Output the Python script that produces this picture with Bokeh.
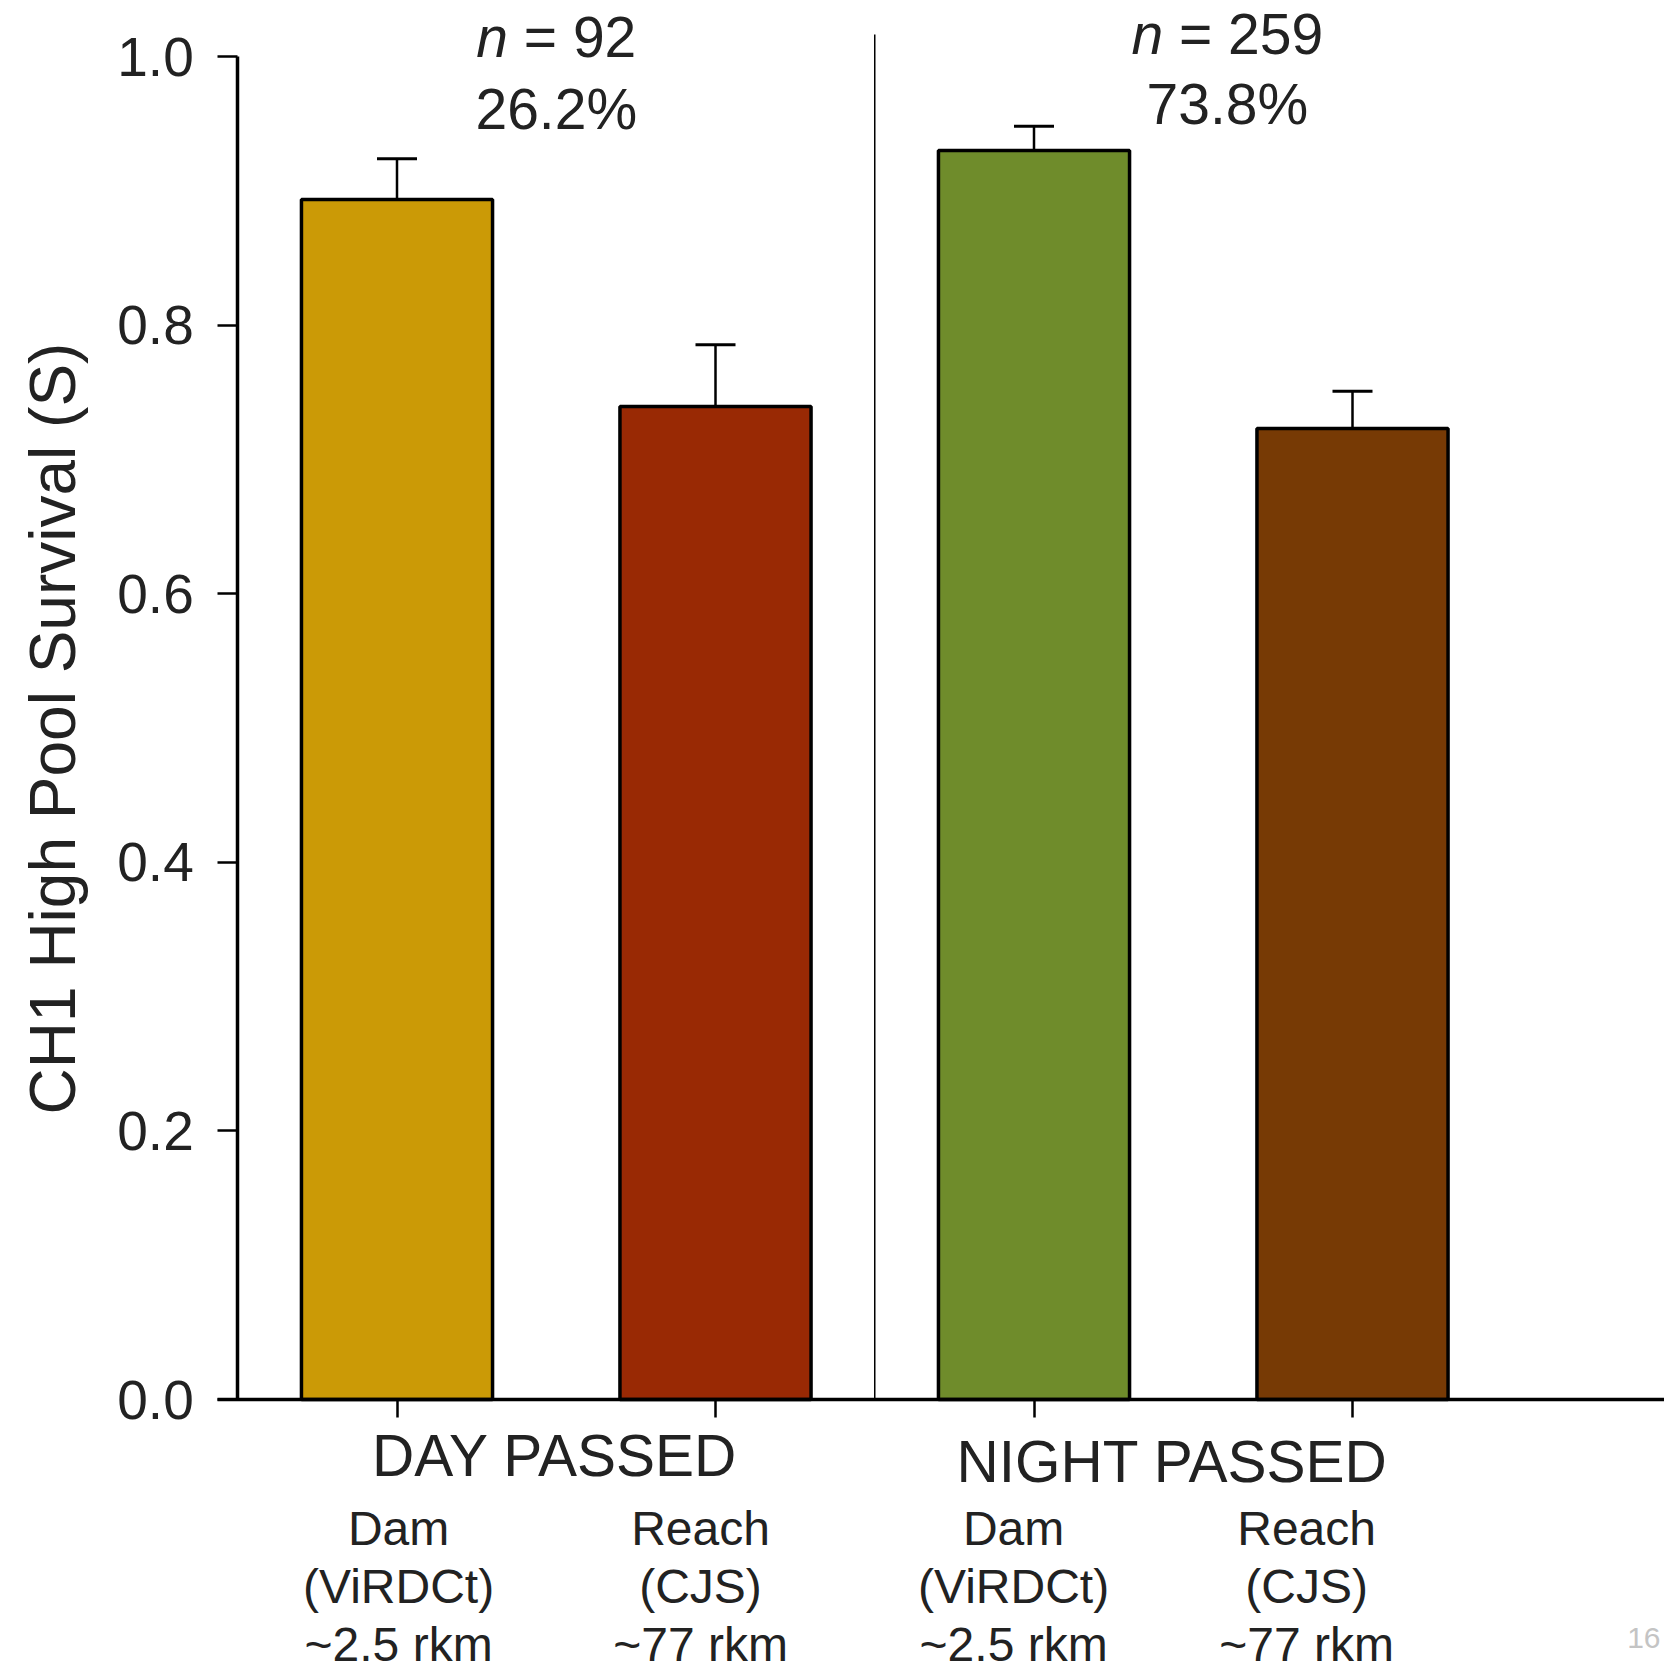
import math
from bokeh.plotting import figure
from bokeh.models import ColumnDataSource, FixedTicker
from bokeh.core.properties import value
from bokeh.embed import file_html
from bokeh.resources import INLINE

# ---------------- data ----------------
group_names = ["DAY PASSED", "NIGHT PASSED"]
group_n = ["92", "259"]
group_pct = ["26.2%", "73.8%"]
bar_names = ["Dam", "Reach", "Dam", "Reach"]
bar_methods = ["(ViRDCt)", "(CJS)", "(ViRDCt)", "(CJS)"]
bar_distance = ["~2.5 rkm", "~77 rkm", "~2.5 rkm", "~77 rkm"]
survival = [0.8935, 0.7394, 0.930, 0.723]
survival_upper = [0.9238, 0.7853, 0.948, 0.7508]
bar_colors = ["#CB9A06", "#992904", "#6F8C2B", "#773A05"]
y_ticks = [0.0, 0.2, 0.4, 0.6, 0.8, 1.0]
y_tick_labels = ["0.0", "0.2", "0.4", "0.6", "0.8", "1.0"]
y_title = "CH1 High Pool Survival (S)"
slide_number = "16"

# ---------------- layout ----------------
W, H = 1664, 1664
PX_X, PX_Y = 318.5, 1343.0          # pixels per data unit
ORIGIN_PX_X, ORIGIN_PX_Y = 396.5, 1399.0   # page pixel of x=1, y=0
X0 = 1 - ORIGIN_PX_X / PX_X
X1 = X0 + W / PX_X
Y1 = ORIGIN_PX_Y / PX_Y
Y0 = -(H - ORIGIN_PX_Y) / PX_Y

TEXT = "#222222"
FONT = "Liberation Sans"
BASE_FIX = 0.33   # baseline correction, in em


def dx(px):
    return px / PX_X


def dy(px):
    return px / PX_Y


def y_at(page_px, font_px):
    """data y for a text baseline at the given page pixel row"""
    return dy(ORIGIN_PX_Y - page_px + BASE_FIX * font_px)


xs = [i + 1 for i in range(len(survival))]
CAP = dx(20)
src = ColumnDataSource(dict(x=xs, top=survival, upper=survival_upper, color=bar_colors,
                            cl=[x - CAP for x in xs], cr=[x + CAP for x in xs]))

p = figure(width=W, height=H, x_range=(X0, X1), y_range=(Y0, Y1),
           output_backend="svg", toolbar_location=None,
           min_border_left=0, min_border_right=0, min_border_top=0, min_border_bottom=0)
p.outline_line_color = None
p.grid.visible = False
p.background_fill_color = "white"
p.border_fill_color = "white"

AXIS_X = 0.5  # y axis position in data units

# y axis
ya = p.yaxis[0]
ya.fixed_location = AXIS_X
ya.bounds = (y_ticks[0], y_ticks[-1])
ya.ticker = FixedTicker(ticks=y_ticks)
ya.major_label_overrides = {t: l for t, l in zip(y_ticks, y_tick_labels)}
ya.axis_line_width = 3.5
ya.axis_line_color = "black"
ya.major_tick_in = 0
ya.major_tick_out = 20
ya.major_tick_line_width = 2.5
ya.major_tick_line_color = "black"
ya.minor_tick_line_color = None
ya.major_label_standoff = 24
ya.major_label_text_font = FONT
ya.major_label_text_font_size = "55px"
ya.major_label_text_color = TEXT

# x axis
xa = p.xaxis[0]
xa.fixed_location = 0
xa.bounds = (AXIS_X - dx(20), X1)
xa.ticker = FixedTicker(ticks=xs)
xa.major_label_overrides = {x: "" for x in xs}
xa.axis_line_width = 3.5
xa.axis_line_color = "black"
xa.major_tick_in = 0
xa.major_tick_out = 18
xa.major_tick_line_width = 2.5
xa.major_tick_line_color = "black"
xa.minor_tick_line_color = None

# group separator
sep_x = (xs[1] + xs[2]) / 2
p.segment(x0=[sep_x], y0=[0], x1=[sep_x], y1=[1.0164], line_color="black", line_width=1.5)

# bars
p.vbar(x="x", top="top", width=0.6, bottom=0, source=src, fill_color="color",
       line_color="black", line_width=3.5)
# error bars (upper only)
p.segment(x0="x", y0="top", x1="x", y1="upper", source=src, line_color="black", line_width=2.5)
p.segment(x0="cl", y0="upper", x1="cr", y1="upper", source=src, line_color="black", line_width=3)

# y axis title
p.text(x=[1 + dx(52 - ORIGIN_PX_X)], y=[dy(ORIGIN_PX_Y - 728)], text=[y_title], angle=math.pi / 2,
       text_font=value(FONT), text_font_size=value("64px"), text_color=TEXT,
       text_align="center", text_baseline="middle")

# header texts (n and percentage)
hdr_x = [1.5, 3.607]
hdr_base1 = [55, 52]     # page px of baseline
hdr_base2 = [127, 122]
F = 57
n_off = [-0.848 * F, -1.126 * F]
rest_off = [-0.570 * F, -0.848 * F]
for i in range(2):
    y1 = y_at(hdr_base1[i], F)
    y2 = y_at(hdr_base2[i], F)
    p.text(x=[hdr_x[i]], y=[y1], text=["n"], text_font=value(FONT),
           text_font_size=value(f"{F}px"), text_font_style="italic", text_color=TEXT,
           text_align="right", text_baseline="alphabetic", x_offset=n_off[i])
    p.text(x=[hdr_x[i]], y=[y1], text=["= " + group_n[i]], text_font=value(FONT),
           text_font_size=value(f"{F}px"), text_color=TEXT,
           text_align="left", text_baseline="alphabetic", x_offset=rest_off[i])
    p.text(x=[hdr_x[i]], y=[y2], text=[group_pct[i]], text_font=value(FONT),
           text_font_size=value(f"{F}px"), text_color=TEXT,
           text_align="center", text_baseline="alphabetic")

# group labels below the axis
GF = 58.5
grp_x = [1.495, 3.434]
grp_base = [1474, 1480]      # page px of baseline
p.text(x=grp_x, y=[y_at(b, GF) for b in grp_base], text=group_names, text_font=value(FONT),
       text_font_size=value(f"{GF}px"), text_color=TEXT, text_align="center",
       text_baseline="alphabetic")

# bar descriptions
SF = 48
sub_x = [1.005, 1.953, 2.936, 3.856]
sub_base = [1544, 1602, 1660]   # page px of baseline
for j, col in enumerate([bar_names, bar_methods, bar_distance]):
    p.text(x=sub_x, y=[y_at(sub_base[j], SF)] * len(sub_x), text=col, text_font=value(FONT),
           text_font_size=value(f"{SF}px"), text_color=TEXT, text_align="center",
           text_baseline="alphabetic")

# slide number
p.text(x=[X1], y=[y_at(1647, 30)], text=[slide_number], text_font=value(FONT),
       text_font_size=value("30px"), text_color="#c4c4c4", text_align="right",
       text_baseline="alphabetic", x_offset=-4)

open("out.html", "w").write(file_html(p, INLINE))
